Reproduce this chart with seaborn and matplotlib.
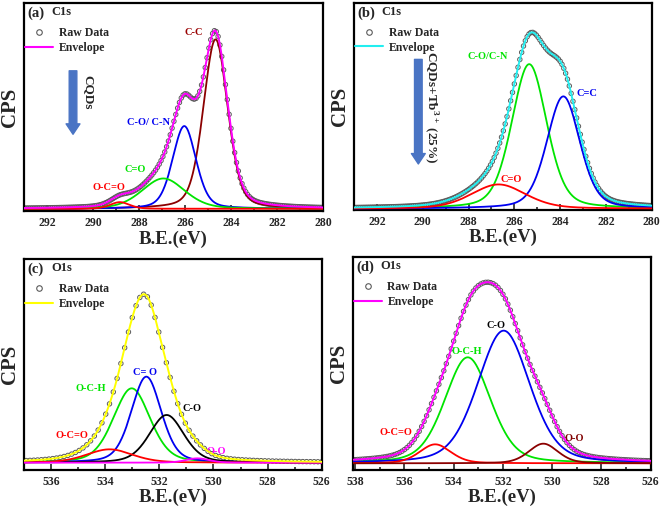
import numpy as np
import matplotlib
matplotlib.use("Agg")
import matplotlib.pyplot as plt
import seaborn as sns
from matplotlib.lines import Line2D

# ---- peak fit components (center eV, height a.u., FWHM eV) ----
# (a) C1s of CQDs
a_names = ["C-C", "C-O/ C-N", "C=O", "O-C=O"]
a_center = [284.67, 286.03, 286.94, 288.83]
a_height = [508, 248, 91, 20]
a_fwhm = [1.25, 1.2, 2.2, 1.0]

# (b) C1s of CQDs+Tb3+ (25%)
b_names = ["C-O/C-N", "C=C", "C=O"]
b_center = [285.35, 283.86, 286.69]
b_height = [435, 338, 73]
b_fwhm = [1.8, 1.7, 2.8]

# (c) O1s of CQDs
c_names = ["O-C-H", "C= O", "C-O", "O-C=O", "O-O"]
c_center = [533.02, 532.48, 531.73, 533.84, 530.59]
c_height = [223, 258, 143, 40, 13]
c_fwhm = [1.6, 1.3, 1.5, 2.0, 1.0]

# (d) O1s of CQDs+Tb3+
d_names = ["O-C-H", "C-O", "O-C=O", "O-O"]
d_center = [533.43, 531.97, 534.75, 530.36]
d_height = [318, 398, 57, 59]
d_fwhm = [2.2, 2.5, 1.5, 1.4]

# ---- styling ----
sns.set_style("white")
plt.rcParams["font.family"] = ["Liberation Serif", "DejaVu Serif"]
plt.rcParams["font.weight"] = "bold"
plt.rcParams["mathtext.fontset"] = "custom"
plt.rcParams["mathtext.rm"] = "Liberation Serif:bold"
plt.rcParams["mathtext.bf"] = "Liberation Serif:bold"

RED, GREEN, BLUE = "#ff0000", "#00e400", "#0000f0"
MAROON = "#8b0000"


def pvoigt(x, c, h, w, eta=0.3):
    g = np.exp(-4 * np.log(2) * (x - c) ** 2 / w ** 2)
    l = 1 / (1 + 4 * (x - c) ** 2 / w ** 2)
    return h * ((1 - eta) * g + eta * l)


panels = [
    dict(tag="(a)", core="C1s", names=a_names, center=a_center, height=a_height, fwhm=a_fwhm,
         colors=[MAROON, BLUE, GREEN, RED], env="#ff00ff", xlim=(293, 280), ylim=(-8, 617),
         ticks=np.arange(280, 293, 2), step=0.08, rect=[0.0363, 0.5837, 0.4523, 0.4104],
         label_xy=[(285.6, 529), (287.6, 259), (288.17, 118), (289.3, 64)],
         label_colors=["#990000", BLUE, GREEN, RED]),
    dict(tag="(b)", core="C1s", names=b_names, center=b_center, height=b_height, fwhm=b_fwhm,
         colors=[GREEN, BLUE, RED], env="#22eef0", xlim=(293, 280), ylim=(-4, 619),
         ticks=np.arange(280, 293, 2), step=0.08, rect=[0.5356, 0.5866, 0.4504, 0.4075],
         label_xy=[(287.17, 458), (282.84, 348), (286.15, 88)],
         label_colors=[GREEN, BLUE, RED]),
    dict(tag="(c)", core="O1s", names=c_names, center=c_center, height=c_height, fwhm=c_fwhm,
         colors=[GREEN, BLUE, "black", RED, "#ff00ff"], env="#ffff00", xlim=(537, 526), ylim=(-22, 610),
         ticks=np.arange(526, 537, 2), step=0.14, rect=[0.0363, 0.0748, 0.4504, 0.4148],
         label_xy=[(534.53, 223), (532.52, 270), (530.81, 163), (535.22, 80), (529.9, 33)],
         label_colors=[GREEN, BLUE, "black", RED, "#ff00ff"]),
    dict(tag="(d)", core="O1s", names=d_names, center=d_center, height=d_height, fwhm=d_fwhm,
         colors=[GREEN, BLUE, RED, MAROON], env="#ff00ff", xlim=(538.1, 526), ylim=(-20, 618),
         ticks=np.arange(526, 539, 2), step=0.1, rect=[0.5336, 0.0748, 0.4508, 0.4187],
         label_xy=[(533.46, 335), (532.27, 412), (536.35, 92), (529.1, 75)],
         label_colors=[GREEN, "black", RED, "#800000"]),
]

fig = plt.figure(figsize=(6.61, 5.08), dpi=100)

for p in panels:
    ax = fig.add_axes(p["rect"])
    lo, hi = min(p["xlim"]), max(p["xlim"])
    x = np.arange(lo, hi + 1e-9, 0.02)
    comps = [pvoigt(x, c, h, w) for c, h, w in zip(p["center"], p["height"], p["fwhm"])]
    env = np.sum(comps, axis=0)

    xr = np.arange(lo, hi + 1e-9, p["step"])
    raw = np.sum([pvoigt(xr, c, h, w) for c, h, w in zip(p["center"], p["height"], p["fwhm"])], axis=0)

    sns.scatterplot(x=xr, y=raw, ax=ax, marker="o", s=10, facecolors="none",
                    edgecolor="#5a5a5a", linewidth=0.7, zorder=2, legend=False)
    for comp, col in zip(comps, p["colors"]):
        sns.lineplot(x=x, y=comp, ax=ax, color=col, linewidth=1.3, zorder=3, legend=False)
    sns.lineplot(x=x, y=env, ax=ax, color=p["env"], linewidth=1.4, zorder=4, legend=False)

    for name, (tx, ty), col in zip(p["names"], p["label_xy"], p["label_colors"]):
        ax.text(tx, ty, name, color=col, fontsize=7.5, ha="center", va="center")

    ax.set_xlim(*p["xlim"])
    ax.set_ylim(*p["ylim"])
    ax.set_xticks(p["ticks"])
    ax.set_xticks(np.arange(lo // 1 + 1, hi, 1), minor=True)
    ax.set_yticks([])
    ax.tick_params(axis="x", which="both", direction="in", bottom=True, top=False,
                   labelsize=8.5, pad=4, width=1.2)
    ax.tick_params(axis="x", which="major", length=4)
    ax.tick_params(axis="x", which="minor", length=2.5)
    for lab in ax.get_xticklabels():
        lab.set_fontweight("bold")
    for s in ax.spines.values():
        s.set_linewidth(1.6)
        s.set_color("black")
    ax.set_xlabel("B.E.(eV)", fontsize=13.5, fontweight="bold", labelpad=1)
    ax.set_ylabel("CPS", fontsize=15, fontweight="bold", labelpad=3)

    ax.text(0.012, 0.985, p["tag"], transform=ax.transAxes, fontsize=10.5, va="top", ha="left")
    ax.text(0.092, 0.985, p["core"], transform=ax.transAxes, fontsize=9, va="top", ha="left")

    handles = [Line2D([], [], marker="o", linestyle="", markerfacecolor="none",
                      markeredgecolor="#5a5a5a", markersize=4, markeredgewidth=0.8),
               Line2D([], [], color=p["env"], linewidth=1.5)]
    ax.legend(handles, ["Raw Data", "Envelope"], loc="upper left", bbox_to_anchor=(-0.02, 0.92),
              frameon=False, fontsize=8.5, handlelength=2.4, labelspacing=0.25,
              handletextpad=0.45, borderaxespad=0.2)

    if p["tag"] == "(a)":
        ax.annotate("", xy=(0.164, 0.357), xytext=(0.164, 0.688), xycoords="axes fraction",
                    arrowprops=dict(arrowstyle="simple,head_width=1.0,head_length=0.75,tail_width=0.55",
                                    color="#4a74c4", mutation_scale=10))
        ax.text(0.214, 0.573, "CQDs", transform=ax.transAxes, rotation=-90, fontsize=9.5,
                ha="center", va="center")
    if p["tag"] == "(b)":
        ax.annotate("", xy=(0.216, 0.209), xytext=(0.216, 0.741), xycoords="axes fraction",
                    arrowprops=dict(arrowstyle="simple,head_width=1.0,head_length=0.75,tail_width=0.55",
                                    color="#4a74c4", mutation_scale=10))
        ax.text(0.259, 0.495, r"CQDs+Tb$^{3+}$ (25%)", transform=ax.transAxes, rotation=-90,
                fontsize=9.5, ha="center", va="center")

fig.savefig("out.png", dpi=100)
